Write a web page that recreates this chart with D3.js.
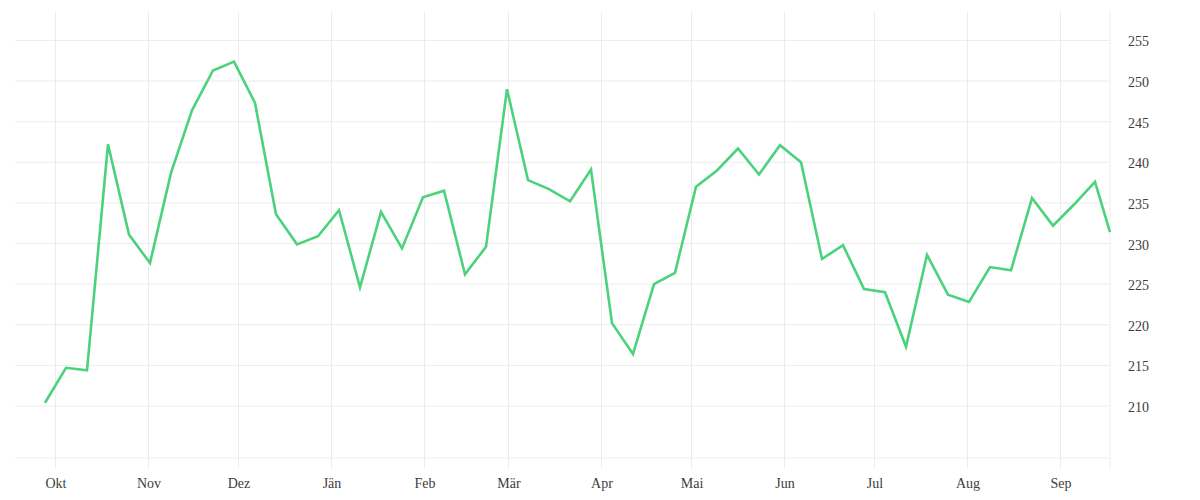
<!DOCTYPE html>
<html>
<head>
<meta charset="utf-8">
<script src="https://cdn.jsdelivr.net/npm/d3@7"></script>
<style>
  body { margin: 0; background: #fff; }
  .tick text { font-family: "Liberation Serif", serif; font-size: 14px; fill: #3d3d3d; }
</style>
</head>
<body>
<div id="chart"></div>
<script>
// weekly values
var dates = [
    "2022-09-27", "2022-10-04", "2022-10-11", "2022-10-18", "2022-10-25",
    "2022-11-01", "2022-11-08", "2022-11-15", "2022-11-22", "2022-11-29",
    "2022-12-06", "2022-12-13", "2022-12-20", "2022-12-27", "2023-01-03",
    "2023-01-10", "2023-01-17", "2023-01-24", "2023-01-31", "2023-02-07",
    "2023-02-14", "2023-02-21", "2023-02-28", "2023-03-07", "2023-03-14",
    "2023-03-21", "2023-03-28", "2023-04-04", "2023-04-11", "2023-04-18",
    "2023-04-25", "2023-05-02", "2023-05-09", "2023-05-16", "2023-05-23",
    "2023-05-30", "2023-06-06", "2023-06-13", "2023-06-20", "2023-06-27",
    "2023-07-04", "2023-07-11", "2023-07-18", "2023-07-25", "2023-08-01",
    "2023-08-08", "2023-08-15", "2023-08-22", "2023-08-29", "2023-09-05",
    "2023-09-12", "2023-09-17"
];
var values = [
    210.4, 214.7, 214.4, 242.2, 231.1, 227.6, 238.7, 246.4, 251.3, 252.4,
    247.3, 233.6, 229.9, 230.9, 234.1, 224.6, 233.9, 229.4, 235.7, 236.5,
    226.2, 229.6, 249.0, 237.8, 236.7, 235.2, 239.1, 220.2, 216.4, 225.0,
    226.4, 237.0, 239.0, 241.7, 238.5, 242.1, 240.0, 228.1, 229.8, 224.4,
    224.0, 217.3, 228.6, 223.7, 222.8, 227.1, 226.7, 235.6, 232.2, 234.8,
    237.6, 231.4
];
var monthLabels = ["Jän", "Feb", "Mär", "Apr", "Mai", "Jun", "Jul", "Aug", "Sep", "Okt", "Nov", "Dez"];
var yTicks = [210, 215, 220, 225, 230, 235, 240, 245, 250, 255];

var width = 1200, height = 500,
    margin = {top: 12, right: 90, bottom: 42, left: 15},
    lineColor = "#4bd27c",
    gridColor = "#ececec";

var parseDate = d3.utcParse("%Y-%m-%d");
var data = dates.map(function(d, i) {
    return { date: d3.utcHour.offset(parseDate(d), 12), value: values[i] };
});

var x = d3.scaleUtc()
    .domain([new Date(Date.UTC(2022, 8, 17, 12)), new Date(Date.UTC(2023, 8, 17, 12))])
    .range([margin.left, width - margin.right]);

var y = d3.scaleLinear()
    .domain([203.6, 258.5])
    .range([height - margin.bottom, margin.top]);

var svg = d3.select("#chart").append("svg")
    .attr("width", width)
    .attr("height", height);

// vertical grid at month starts, running a bit below the plot like ticks
var months = x.ticks(d3.utcMonth.every(1));
svg.append("g")
    .selectAll("line")
    .data(months)
    .enter().append("line")
    .attr("x1", function(d) { return x(d); })
    .attr("x2", function(d) { return x(d); })
    .attr("y1", margin.top)
    .attr("y2", height - margin.bottom + 10)
    .attr("stroke", gridColor);

// right border line
svg.append("line")
    .attr("x1", x.range()[1]).attr("x2", x.range()[1])
    .attr("y1", margin.top).attr("y2", height - margin.bottom + 10)
    .attr("stroke", gridColor);

// horizontal grid + baseline
svg.append("g")
    .selectAll("line")
    .data(yTicks.concat([y.domain()[0]]))
    .enter().append("line")
    .attr("x1", margin.left)
    .attr("x2", width - margin.right)
    .attr("y1", function(d) { return y(d); })
    .attr("y2", function(d) { return y(d); })
    .attr("stroke", gridColor);

// x axis labels
var xAxis = d3.axisBottom(x)
    .tickValues(months)
    .tickSize(0)
    .tickPadding(20)
    .tickFormat(function(d) { return monthLabels[d.getUTCMonth()]; });

svg.append("g")
    .attr("transform", "translate(0," + (height - margin.bottom) + ")")
    .call(xAxis)
    .call(function(g) { g.select(".domain").remove(); });

// y axis on the right
var yAxis = d3.axisRight(y)
    .tickValues(yTicks)
    .tickSize(0)
    .tickPadding(18);

svg.append("g")
    .attr("transform", "translate(" + (width - margin.right) + ",1)")
    .call(yAxis)
    .call(function(g) { g.select(".domain").remove(); });

var line = d3.line()
    .x(function(d) { return x(d.date); })
    .y(function(d) { return y(d.value); });

svg.append("path")
    .datum(data)
    .attr("fill", "none")
    .attr("stroke", lineColor)
    .attr("stroke-width", 2.6)
    .attr("stroke-linejoin", "miter")
    .attr("d", line);
</script>
</body>
</html>
